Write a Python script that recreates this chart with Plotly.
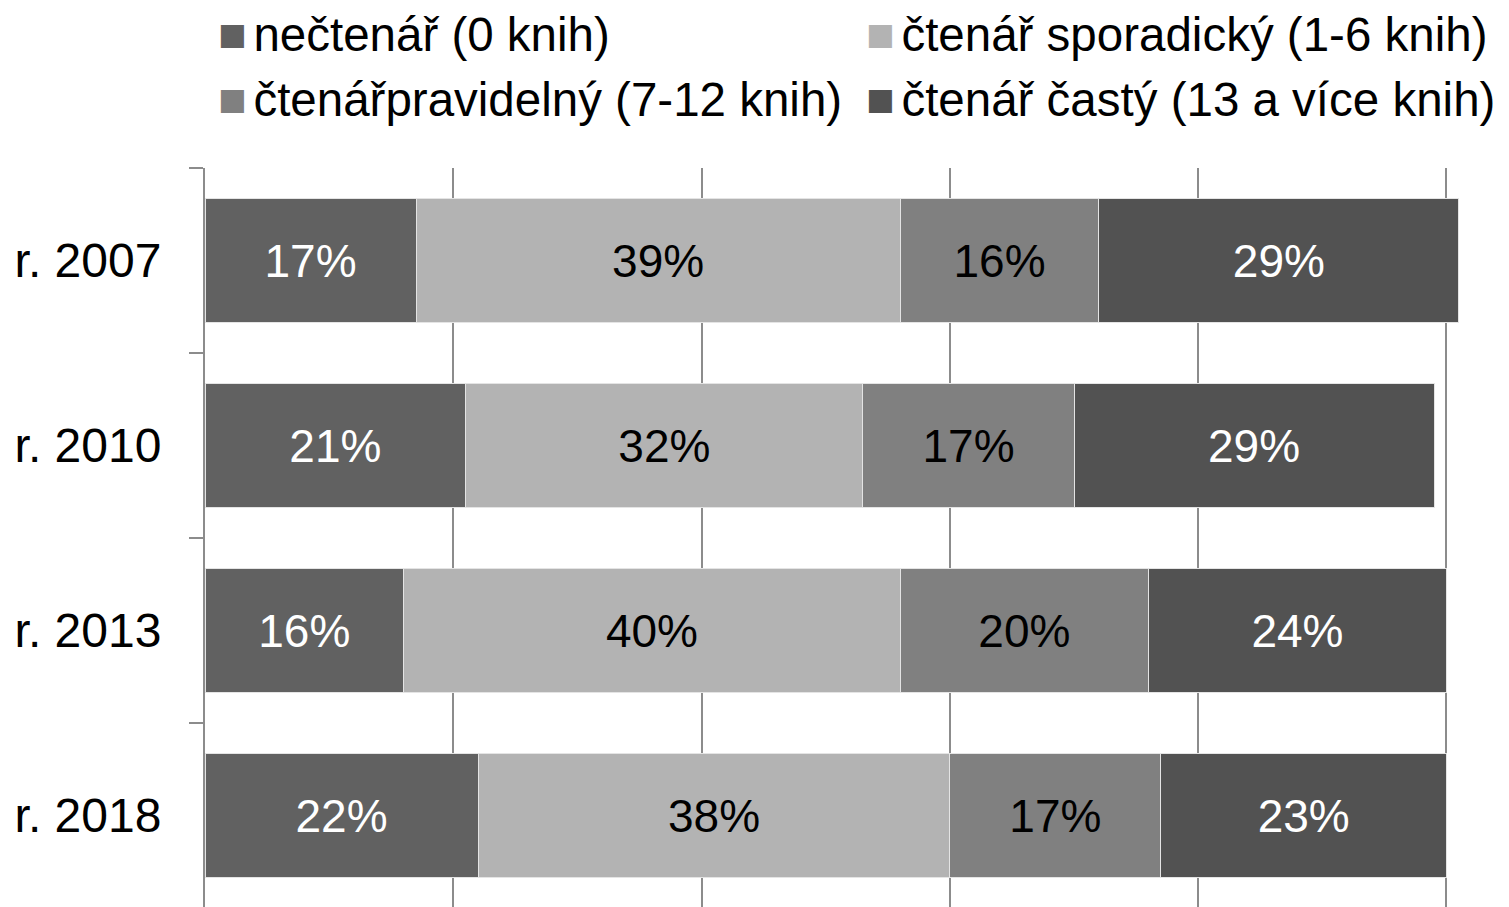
import plotly.graph_objects as go

years = ["r. 2007", "r. 2010", "r. 2013", "r. 2018"]
series_names = [
    "nečtenář (0 knih)",
    "čtenář sporadický (1-6 knih)",
    "čtenářpravidelný (7-12 knih)",
    "čtenář častý (13 a více knih)",
]
nectenar = [17, 21, 16, 22]
sporadicky = [39, 32, 40, 38]
pravidelny = [16, 17, 20, 17]
casty = [29, 29, 24, 23]
grid_ticks = [0, 0.2, 0.4, 0.6, 0.8, 1.0]

colors = ["#616161", "#b3b3b3", "#808080", "#525252"]
text_colors = ["white", "black", "black", "white"]
FONT = "Liberation Sans, Arial, sans-serif"

fig = go.Figure()
for name, vals, col, tcol in zip(series_names, [nectenar, sporadicky, pravidelny, casty], colors, text_colors):
    fig.add_trace(go.Bar(
        y=years,
        x=[v / 100 for v in vals],
        name=name,
        orientation="h",
        marker=dict(color=col, line=dict(color="#e4e4e4", width=1)),
        text=[f"{v}%" for v in vals],
        textposition="inside",
        insidetextanchor="middle",
        textangle=0,
        textfont=dict(family=FONT, size=46, color=tcol),
        showlegend=False,
        hoverinfo="skip",
    ))

# legend built as text annotations (2 x 2 grid)
legend_pos = [(0.0096, 1.1804), (0.5265, 1.1804), (0.0096, 1.0926), (0.5265, 1.0926)]
for name, col, (lx, ly) in zip(series_names, colors, legend_pos):
    fig.add_annotation(
        xref="paper", yref="paper", x=lx, y=ly,
        xanchor="left", yanchor="middle", showarrow=False, borderpad=0,
        text=(f"<span style='color:{col}'>■</span>"
              f"<span style='font-size:24px'> </span>{name}"),
        font=dict(family=FONT, size=47.5, color="black"),
    )

fig.update_layout(
    width=1509, height=907,
    margin=dict(l=197, r=58, t=160, b=7),
    barmode="stack",
    bargap=0.33,
    plot_bgcolor="white",
    paper_bgcolor="white",
    uniformtext=dict(minsize=46, mode="show"),
)
fig.update_xaxes(
    range=[0, 1.0101], tickvals=grid_ticks,
    showticklabels=False, showgrid=True, gridcolor="#8c8c8c", gridwidth=2,
    zeroline=False, showline=False, ticks="",
)
fig.update_yaxes(
    autorange="reversed", showline=True, linecolor="#8c8c8c", linewidth=2,
    ticks="outside", tickson="boundaries", ticklen=14, tickcolor="#8c8c8c", tickwidth=2,
    ticklabelstandoff=32, showgrid=False, zeroline=False,
    tickfont=dict(family=FONT, size=48, color="black"),
)

fig.write_html("out.html")
